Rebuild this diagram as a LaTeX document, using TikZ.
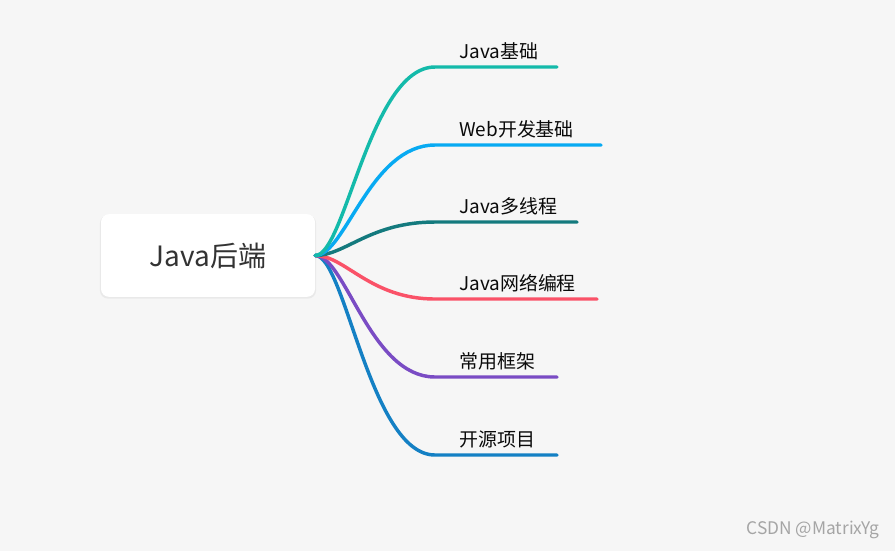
\documentclass[tikz,border=0pt]{standalone}
\usepackage{fontspec}
\setmainfont{Noto Sans CJK SC}
\usetikzlibrary{shadows}
\definecolor{canvas}{RGB}{246,246,246}
\definecolor{ink}{RGB}{10,10,10}
\definecolor{rootink}{RGB}{51,51,51}
\definecolor{mark}{RGB}{165,165,165}
\definecolor{bteal}{RGB}{20,186,170}
\definecolor{bsky}{RGB}{8,170,242}
\definecolor{bpine}{RGB}{20,122,126}
\definecolor{brose}{RGB}{250,82,104}
\definecolor{bviolet}{RGB}{122,76,196}
\definecolor{bocean}{RGB}{20,128,196}
\tikzset{
  rootbox/.style={fill=white,rounded corners=6pt,minimum width=160.5pt,minimum height=62pt,
    font=\fontsize{21}{24}\selectfont,text=rootink,inner sep=0pt,
    drop shadow={shadow xshift=0pt,shadow yshift=-1pt,shadow scale=1.01,opacity=0.05,fill=black}},
  topic/.style={anchor=base west,font=\fontsize{14.2}{16}\selectfont,text=ink,inner sep=0pt},
  branch/.style={line width=2.6pt,line cap=round},
}
\begin{document}
\begin{tikzpicture}[x=0.75pt,y=-0.75pt]
  \useasboundingbox[fill=canvas] (0,0) rectangle (895,551);

  \node[rootbox] (root) at (208,255.5) {Java后端};

  % branch ends
  \coordinate (k1) at (435,67);  \coordinate (e1) at (557,67);
  \coordinate (k2) at (435,145); \coordinate (e2) at (601,145);
  \coordinate (k3) at (435,222); \coordinate (e3) at (577,222);
  \coordinate (k4) at (435,299); \coordinate (e4) at (597,299);
  \coordinate (k5) at (435,377); \coordinate (e5) at (557,377);
  \coordinate (k6) at (435,455); \coordinate (e6) at (557,455);

  \node[topic] (t1) at (459,58)  {Java基础};
  \node[topic] (t2) at (459,136) {Web开发基础};
  \node[topic] (t3) at (459,213) {Java多线程};
  \node[topic] (t4) at (459,290) {Java网络编程};
  \node[topic] (t5) at (459,368) {常用框架};
  \node[topic] (t6) at (459,446) {开源项目};

  \draw[branch,draw=bocean] (root.east) .. controls +(30,0) and +(-65,0) .. (k6) -- (e6);
  \draw[branch,draw=bviolet] (root.east) .. controls +(30,0) and +(-65,0) .. (k5) -- (e5);
  \draw[branch,draw=brose] (root.east) .. controls +(30,0) and +(-65,0) .. (k4) -- (e4);
  \draw[branch,draw=bpine] (root.east) .. controls +(30,0) and +(-65,0) .. (k3) -- (e3);
  \draw[branch,draw=bsky] (root.east) .. controls +(30,0) and +(-65,0) .. (k2) -- (e2);
  \draw[branch,draw=bteal] (root.east) .. controls +(30,0) and +(-65,0) .. (k1) -- (e1);

  \node[anchor=east,font=\fontsize{13}{15}\selectfont,text=mark,inner sep=0pt] (credit) at (880,530) {CSDN @MatrixYg};
\end{tikzpicture}
\end{document}
